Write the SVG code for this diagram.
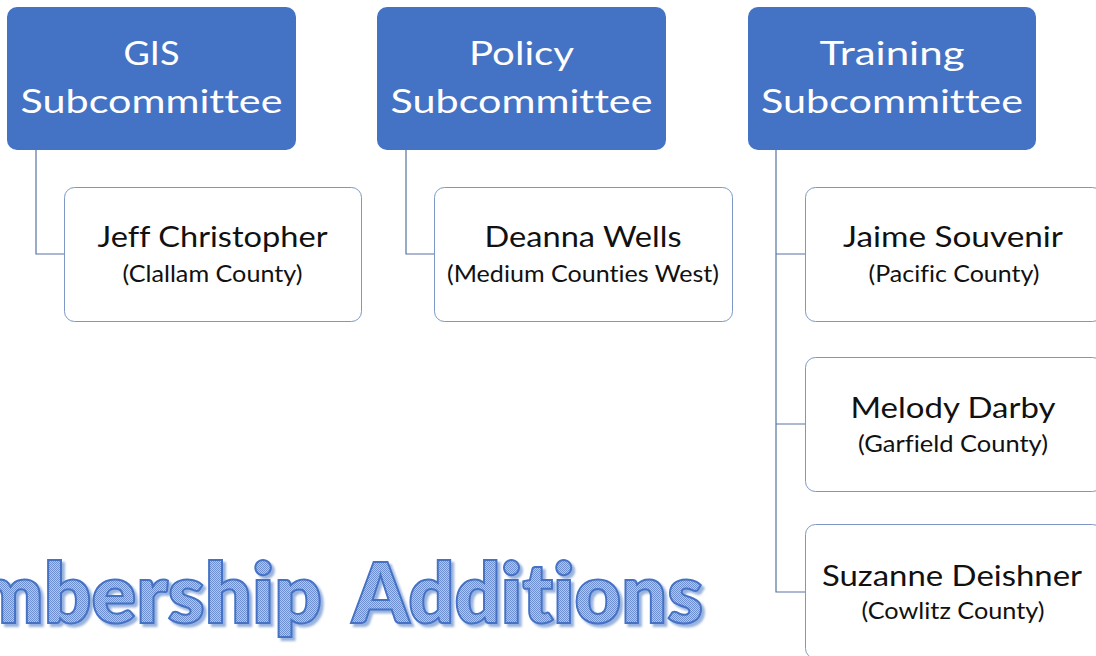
<svg xmlns="http://www.w3.org/2000/svg" width="1096" height="656" viewBox="0 0 1096 656">
  <defs>
    <pattern id="dither" width="2" height="2" patternUnits="userSpaceOnUse">
      <rect width="2" height="2" fill="#B4C6E8"/>
      <rect width="1" height="1" fill="#6E8FD0"/>
      <rect x="1" y="1" width="1" height="1" fill="#6E8FD0"/>
    </pattern>
    <filter id="shadow" x="-5%" y="-20%" width="110%" height="140%">
      <feDropShadow dx="3" dy="3" stdDeviation="0.8" flood-color="#4472C4" flood-opacity="0.55"/>
    </filter>
    <style>
      text { font-variant-ligatures: none; font-feature-settings: "liga" 0, "clig" 0; }
      .head rect { fill: #4472C4; }
      .head text { fill: #FFFFFF; font-family: Lato, "Open Sans", sans-serif; font-size: 32px; text-anchor: middle; }
      .member rect { fill: #FFFFFF; stroke: #7F97C4; stroke-width: 1; }
      .member text { fill: #111111; font-family: Lato, "Open Sans", sans-serif; text-anchor: middle; }
      .member .name { font-size: 29px; }
      .member .org { font-size: 24px; }
      #connectors path { fill: none; stroke: #5873A0; stroke-width: 1.2; }
      .title { font-family: Lato, "Open Sans", sans-serif; font-weight: 800; font-size: 84px; }
    </style>
  </defs>

  <rect width="1096" height="656" fill="#FFFFFF"/>

  <!-- tree lines from each subcommittee to its members -->
  <g id="connectors">
    <path d="M36 150 V254 H64"/>
    <path d="M406 150 V254 H434"/>
    <path d="M776 150 V592 H805 M776 254 H805 M776 424 H805"/>
  </g>

  <!-- subcommittee headers -->
  <g id="gis" class="head">
    <rect x="7" y="7" width="289" height="143" rx="10"/>
    <text x="151.5" y="65" textLength="56" lengthAdjust="spacingAndGlyphs">GIS</text>
    <text x="151.5" y="113" textLength="262" lengthAdjust="spacingAndGlyphs">Subcommittee</text>
  </g>
  <g id="policy" class="head">
    <rect x="377" y="7" width="289" height="143" rx="10"/>
    <text x="521.5" y="65" textLength="105" lengthAdjust="spacingAndGlyphs">Policy</text>
    <text x="521.5" y="113" textLength="262" lengthAdjust="spacingAndGlyphs">Subcommittee</text>
  </g>
  <g id="training" class="head">
    <rect x="748" y="7" width="288" height="143" rx="10"/>
    <text x="892" y="65" textLength="145" lengthAdjust="spacingAndGlyphs">Training</text>
    <text x="892" y="113" textLength="262" lengthAdjust="spacingAndGlyphs">Subcommittee</text>
  </g>

  <!-- members -->
  <g id="jeff" class="member">
    <rect x="64.5" y="187.5" width="297" height="134" rx="10"/>
    <text class="name" x="212.5" y="247" textLength="230" lengthAdjust="spacingAndGlyphs">Jeff Christopher</text>
    <text class="org" x="212.5" y="282" textLength="180" lengthAdjust="spacingAndGlyphs">(Clallam County)</text>
  </g>
  <g id="deanna" class="member">
    <rect x="434.5" y="187.5" width="298" height="134" rx="10"/>
    <text class="name" x="583" y="247" textLength="197" lengthAdjust="spacingAndGlyphs">Deanna Wells</text>
    <text class="org" x="583" y="282" textLength="272" lengthAdjust="spacingAndGlyphs">(Medium Counties West)</text>
  </g>
  <g id="jaime" class="member">
    <rect x="805.5" y="187.5" width="297" height="134" rx="10"/>
    <text class="name" x="953" y="247" textLength="220" lengthAdjust="spacingAndGlyphs">Jaime Souvenir</text>
    <text class="org" x="954" y="282" textLength="171" lengthAdjust="spacingAndGlyphs">(Pacific County)</text>
  </g>
  <g id="melody" class="member">
    <rect x="805.5" y="357.5" width="297" height="134" rx="10"/>
    <text class="name" x="953" y="418" textLength="205" lengthAdjust="spacingAndGlyphs">Melody Darby</text>
    <text class="org" x="953" y="452" textLength="190" lengthAdjust="spacingAndGlyphs">(Garfield County)</text>
  </g>
  <g id="suzanne" class="member">
    <rect x="805.5" y="524.5" width="297" height="134" rx="10"/>
    <text class="name" x="952" y="586" textLength="260" lengthAdjust="spacingAndGlyphs">Suzanne Deishner</text>
    <text class="org" x="953" y="619" textLength="183" lengthAdjust="spacingAndGlyphs">(Cowlitz County)</text>
  </g>

  <!-- slide title, running off the left edge of the slide -->
  <g id="title">
    <text class="title" fill="url(#dither)" stroke="#4472C4" stroke-width="2" filter="url(#shadow)"><tspan x="-150" y="623" textLength="472" lengthAdjust="spacingAndGlyphs">Membership</tspan><tspan x="352" y="623" textLength="351" lengthAdjust="spacingAndGlyphs">Additions</tspan></text>
  </g>
</svg>
